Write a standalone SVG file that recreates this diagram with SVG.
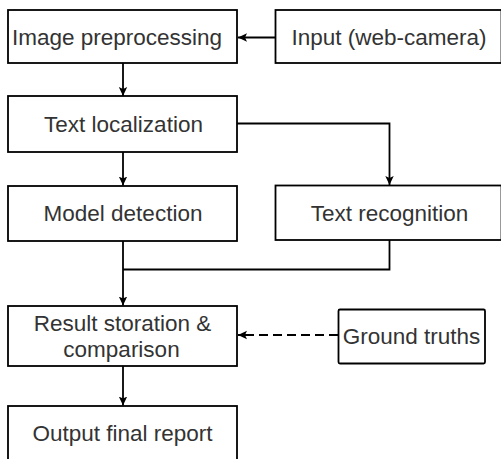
<svg xmlns="http://www.w3.org/2000/svg" width="501" height="459" viewBox="0 0 501 459">
<style>
.box{fill:#fff;stroke:#000;stroke-width:1.8}
.lbl{font-family:"Liberation Sans",Arial,sans-serif;font-size:22.5px;fill:#333;text-anchor:middle}
.con{fill:none;stroke:#000;stroke-width:1.8}
.dash{stroke-dasharray:9 5}
</style>
<defs>
<marker id="ah" markerWidth="10" markerHeight="10" viewBox="0 0 10 10" refX="9" refY="5" orient="auto" markerUnits="userSpaceOnUse">
<path d="M0,0.8 L9,5 L0,9.2 L2,5 Z" fill="#000"/>
</marker>
</defs>
<rect width="501" height="459" fill="#fff"/>
<g id="connectors">
<line class="con" x1="275" y1="37.5" x2="238" y2="37.5" marker-end="url(#ah)"/>
<line class="con" x1="123" y1="63" x2="123" y2="96" marker-end="url(#ah)"/>
<line class="con" x1="123" y1="152" x2="123" y2="185.5" marker-end="url(#ah)"/>
<polyline class="con" points="237,123.5 389.5,123.5 389.5,185" marker-end="url(#ah)"/>
<polyline class="con" points="389.5,240 389.5,269.5 123,269.5"/>
<line class="con" x1="123" y1="241" x2="123" y2="305.5" marker-end="url(#ah)"/>
<line class="con dash" x1="338" y1="335" x2="238" y2="335" marker-end="url(#ah)"/>
<line class="con" x1="123" y1="366" x2="123" y2="405.5" marker-end="url(#ah)"/>
</g>
<g id="image-preprocessing">
<rect class="box" x="8" y="10" width="229" height="53"/>
<text class="lbl" x="117" y="44.5">Image preprocessing</text>
</g>
<g id="input">
<rect class="box" x="275.5" y="10" width="226" height="53"/>
<text class="lbl" x="389" y="44.5">Input (web-camera)</text>
</g>
<g id="text-localization">
<rect class="box" x="8" y="96" width="229" height="56"/>
<text class="lbl" x="123.5" y="132">Text localization</text>
</g>
<g id="model-detection">
<rect class="box" x="8" y="186" width="229" height="55"/>
<text class="lbl" x="123" y="221">Model detection</text>
</g>
<g id="text-recognition">
<rect class="box" x="275.5" y="185.5" width="226" height="54.5"/>
<text class="lbl" x="389.5" y="220.5">Text recognition</text>
</g>
<g id="result-storation">
<rect class="box" x="8" y="306" width="229" height="60"/>
<text class="lbl" x="122.5" y="330.5">Result storation &amp;</text>
<text class="lbl" x="121.5" y="356.5">comparison</text>
</g>
<g id="ground-truths">
<rect class="box" x="338.5" y="309.5" width="146.5" height="54" rx="1.5"/>
<text class="lbl" x="411.5" y="344">Ground truths</text>
</g>
<g id="output-final-report">
<rect class="box" x="8" y="406" width="229" height="60"/>
<text class="lbl" x="122.5" y="440.5">Output final report</text>
</g>
</svg>
